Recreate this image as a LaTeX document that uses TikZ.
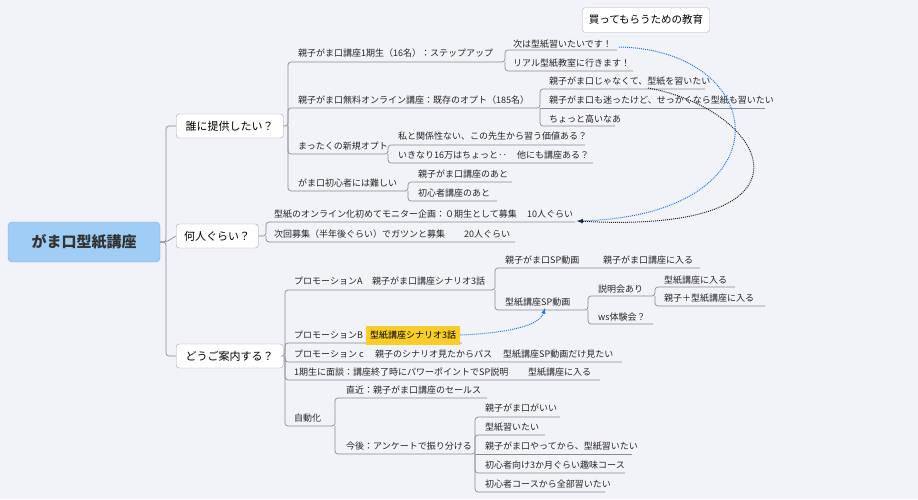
\documentclass[tikz,border=0pt]{standalone}
\usepackage{fontspec}
\setmainfont{Noto Sans CJK JP}
\begin{document}
\begin{tikzpicture}[x=1pt,y=-1pt,
  it/.style={anchor=west,inner sep=0pt,font=\fontsize{9}{10}\selectfont,text=black!85},
  ln/.style={draw=black!45,line width=0.7pt,rounded corners=3pt},
  br/.style={draw=black!35,fill=white,rounded corners=3pt,font=\fontsize{11}{13}\selectfont,minimum height=24pt,inner xsep=6pt,anchor=west}]
\fill[fill={rgb,255:red,242;green,243;blue,248}] (0,0) rectangle (918,499);
\useasboundingbox (0,0) rectangle (918,499);
\newcommand\mmi[4]{\node[it] (#1) at (#2,#3) {#4};}
% root
\node[draw={rgb,255:red,120;green,170;blue,220},fill={rgb,255:red,160;green,205;blue,245},rounded corners=4pt,minimum width=152pt,minimum height=40pt,font=\fontsize{15}{17}\selectfont\bfseries,text=black!80] (root) at (84,242) {がま口型紙講座};
\node[br,minimum width=107pt] (b1) at (176,126) {誰に提供したい？};
\node[br,minimum width=82pt] (b2) at (176,236) {何人ぐらい？};
\node[br,minimum width=107pt] (b3) at (176,356) {どうご案内する？};
\draw[ln] (root.east) -- (166,242) |- (b1.west);
\draw[ln] (root.east) -- (166,242) -- (b2.west);
\draw[ln] (root.east) -- (166,242) |- (b3.west);
\node[draw=black!30,fill=white,rounded corners=3pt,font=\fontsize{10.5}{12}\selectfont,minimum width=127pt,minimum height=25pt] (edu) at (646,20) {買ってもらうための教育};
% branch 1
\mmi{a1}{298}{53}{親子がま口講座1期生（16名）：ステップアップ}
\mmi{a2}{298}{100}{親子がま口無料オンライン講座：既存のオプト（185名）}
\mmi{a3}{298}{146}{まったくの新規オプト}
\mmi{a4}{298}{183}{がま口初心者には難しい}
\draw[ln] (b1.east) -- (288,126) |- (500,62);
\draw[ln] (288,126) |- (535,108);
\draw[ln] (288,126) |- (380,154);
\draw[ln] (288,126) |- (400,191);
\mmi{a11}{513}{44}{次は型紙習いたいです！}
\mmi{a12}{513}{63}{リアル型紙教室に行きます！}
\draw[ln] (500,62) -- (505,62) |- (617,50);
\draw[ln] (505,62) |- (633,71);
\mmi{a21}{549}{81}{親子がま口じゃなくて、型紙を習いたい}
\mmi{a22}{549}{100}{親子がま口も迷ったけど、せっかくなら型紙も習いたい}
\mmi{a23}{549}{119}{ちょっと高いなあ}
\draw[ln] (535,108) -- (540,108) |- (705,89);
\draw[ln] (540,108) -- (765,108);
\draw[ln] (540,108) |- (615,126);
\mmi{a31}{398}{136}{私と関係性ない、この先生から習う価値ある？}
\mmi{a32}{398}{155}{いきなり16万はちょっと‥}
\mmi{a33}{517}{155}{他にも講座ある？}
\draw[ln] (380,154) -- (388,154) |- (585,145);
\draw[ln] (388,154) |- (593,163);
\mmi{a41}{418}{174}{親子がま口講座のあと}
\mmi{a42}{418}{193}{初心者講座のあと}
\draw[ln] (400,191) -- (408,191) |- (512,182);
\draw[ln] (408,191) |- (497,201);
% branch 2
\mmi{c1}{274}{214}{型紙のオンライン化初めてモニター企画：０期生として募集}
\mmi{c11}{527}{214}{10人ぐらい}
\mmi{c2}{274}{234}{次回募集（半年後ぐらい）でガツンと募集}
\mmi{c21}{464}{234}{20人ぐらい}
\draw[ln] (b2.east) -- (266,236) |- (575,222);
\draw[ln] (266,236) |- (515,242);
% branch 3
\draw[ln] (b3.east) -- (285,356) |- (490,290);
\draw[ln] (285,356) |- (462,343);
\draw[ln] (285,356) |- (622,362);
\draw[ln] (285,356) |- (600,380);
\draw[ln] (285,356) |- (330,426);
\mmi{d1}{294}{281}{プロモーションA}
\mmi{d1a}{372}{281}{親子がま口講座シナリオ3話}
\mmi{d11}{505}{260}{親子がま口SP動画}
\mmi{d11a}{603}{260}{親子がま口講座に入る}
\mmi{d12}{505}{302}{型紙講座SP動画}
\draw[ln] (490,290) -- (495,290) |- (700,268);
\draw[ln] (495,290) |- (585,310);
\mmi{d121}{598}{289}{説明会あり}
\mmi{d122}{598}{317}{ws体験会？}
\draw[ln] (585,310) -- (588,310) |- (645,296);
\draw[ln] (588,310) |- (653,324);
\mmi{d1211}{664}{280}{型紙講座に入る}
\mmi{d1212}{664}{298}{親子＋型紙講座に入る}
\draw[ln] (645,296) -- (655,296) |- (735,287);
\draw[ln] (655,296) |- (765,306);
\mmi{d2}{294}{335}{プロモーションB}
\node[fill={rgb,255:red,250;green,205;blue,40},inner xsep=4pt,minimum height=19pt,font=\fontsize{9}{10}\selectfont,anchor=west] (d2a) at (366,335) {型紙講座シナリオ3話};
\mmi{d3}{294}{354}{プロモーション c}
\mmi{d3a}{375}{354}{親子のシナリオ見たからパス}
\mmi{d3b}{503}{354}{型紙講座SP動画だけ見たい}
\mmi{d4}{294}{372}{1期生に面談：講座終了時にパワーポイントでSP説明}
\mmi{d4a}{528}{372}{型紙講座に入る}
\mmi{d5}{294}{418}{自動化}
\draw[ln] (330,426) -- (335,426) |- (487,398);
\draw[ln] (335,426) |- (472,454);
\mmi{d51}{346}{390}{直近：親子がま口講座のセールス}
\mmi{d52}{346}{446}{今後：アンケートで振り分ける}
\draw[ln] (472,454) -- (475,454) |- (560,417);
\draw[ln] (475,454) |- (545,435);
\draw[ln] (475,454) -- (632,454);
\draw[ln] (475,454) |- (625,473);
\draw[ln] (475,454) |- (605,492);
\mmi{d521}{485}{408}{親子がま口がいい}
\mmi{d522}{485}{427}{型紙習いたい}
\mmi{d523}{485}{446}{親子がま口やってから、型紙習いたい}
\mmi{d524}{485}{465}{初心者向け3か月ぐらい趣味コース}
\mmi{d525}{485}{484}{初心者コースから全部習いたい}
% relationships
\coordinate (s1) at (619,47);
\coordinate (s2) at (648,88);
\coordinate (t1) at (577,221);
\draw[densely dotted,line width=1pt,draw={rgb,255:red,40;green,120;blue,220},-latex] (s1) .. controls (770,50) and (790,215) .. (t1);
\draw[densely dotted,line width=1pt,draw=black!85,-latex] (s2) .. controls (770,110) and (830,235) .. (t1);
\draw[densely dotted,line width=1pt,draw={rgb,255:red,40;green,120;blue,220},-latex] (d2a.east) .. controls (510,333) and (540,325) .. (545,308);
\end{tikzpicture}
\end{document}
